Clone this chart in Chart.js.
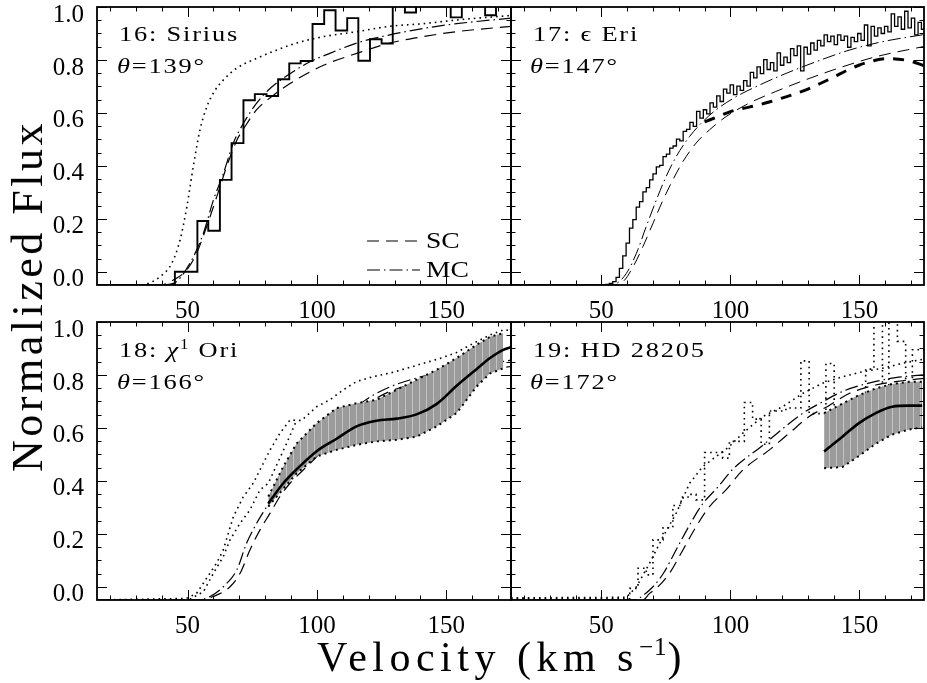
<!DOCTYPE html>
<html><head><meta charset="utf-8">
<script src="https://cdn.jsdelivr.net/npm/chart.js@4.4.1/dist/chart.umd.min.js"></script>
<style>
html,body{margin:0;padding:0;background:#fff;}
body{width:927px;height:683px;position:relative;overflow:hidden;}
canvas{position:absolute;}
.lab{position:absolute;font-family:"Liberation Serif","Times New Roman",serif;color:#000;white-space:nowrap;line-height:1;}
.pl{font-size:22px;letter-spacing:1.5px;transform:translateY(-50%) scaleX(1.2);transform-origin:left center;}
.sup{font-size:14px;position:relative;top:-8px;}
#ytitle{font-size:44px;letter-spacing:3.5px;left:28px;top:296px;transform:translate(-50%,-50%) rotate(-90deg);}
#xtitle{font-size:42px;letter-spacing:5.5px;left:502px;top:657px;transform:translate(-50%,-50%);}
#xtitle .s2{font-size:25px;position:relative;top:-16px;letter-spacing:1px;}
</style></head><body>
<canvas id="c16" width="520" height="340" style="left:0;top:0"></canvas>
<canvas id="c17" width="447" height="340" style="left:480px;top:0"></canvas>
<canvas id="c18" width="520" height="340" style="left:0;top:315px"></canvas>
<canvas id="c19" width="447" height="340" style="left:480px;top:315px"></canvas>

<div class="lab pl" style="left:119px;top:34px">16: Sirius</div>
<div class="lab pl" style="left:117px;top:66px"><i>θ</i>=139°</div>
<div class="lab pl" style="left:533px;top:34px">17: ϵ Eri</div>
<div class="lab pl" style="left:530px;top:66px"><i>θ</i>=147°</div>
<div class="lab pl" style="left:119px;top:350px">18: <i>χ</i><span class="sup">1</span> Ori</div>
<div class="lab pl" style="left:117px;top:382px"><i>θ</i>=166°</div>
<div class="lab pl" style="left:533px;top:350px">19: HD 28205</div>
<div class="lab pl" style="left:530px;top:382px"><i>θ</i>=172°</div>
<div id="ytitle" class="lab">Normalized Flux</div>
<div id="xtitle" class="lab">Velocity (km s<span class="s2">−1</span>)</div>

<script>
// ---------------- axis ----------------
const X_MIN = 15, X_MAX = 175;
const Y_MIN = -0.05, Y_MAX = 1.0;
const X_TICKS = [20, 30, 40, 50, 60, 70, 80, 90, 100, 110, 120, 130, 140, 150, 160, 170];
const X_LABELED = [50, 100, 150];
const Y_TICKS = [0, 0.05, 0.1, 0.15, 0.2, 0.25, 0.3, 0.35, 0.4, 0.45, 0.5, 0.55, 0.6, 0.65, 0.7, 0.75, 0.8, 0.85, 0.9, 0.95, 1.0];
const Y_LABELED = ['0.0', '0.2', '0.4', '0.6', '0.8', '1.0'];

// ---------------- 16: Sirius ----------------
const siriusEdges = [15, 45.1, 49.5, 53.8, 58.0, 62.5, 67.0, 71.6, 76.0, 80.5, 85.0, 89.3, 93.7, 98.3, 102.8, 107.2, 111.7, 116.0, 120.5, 125.0, 129.3, 134.0, 138.3, 142.7, 147.2, 151.7, 156.0, 160.4, 165.0, 169.2, 173.6, 175];
const siriusFlux  = [-0.05, 0.000, 0.000, 0.192, 0.155, 0.347, 0.486, 0.648, 0.671, 0.664, 0.727, 0.787, 0.796, 0.936, 0.988, 0.911, 0.958, 0.797, 0.878, 0.862, 1.04, 0.979, 1.04, 1.03, 1.05, 0.961, 1.03, 1.04, 0.969, 1.02, 1.03];
const siriusDotV  = [15, 31.6, 39.3, 43.9, 47.1, 49.7, 52.2, 54.8, 57.4, 60.6, 63.8, 69.0, 76.7, 84.4, 92.2, 102.5, 115.4, 128.2, 141.1, 154.0, 175];
const siriusDotF  = [-0.05, -0.05, -0.019, 0.032, 0.120, 0.244, 0.397, 0.536, 0.622, 0.685, 0.724, 0.769, 0.806, 0.837, 0.864, 0.888, 0.907, 0.927, 0.937, 0.951, 0.968];
const siriusScV   = [15, 39.3, 44.5, 49.7, 53.5, 57.4, 61.3, 65.1, 69.0, 72.9, 76.7, 83.2, 89.6, 96.0, 102.5, 115.4, 128.2, 141.1, 154.0, 175];
const siriusScF   = [-0.05, -0.05, -0.031, 0.007, 0.070, 0.171, 0.284, 0.397, 0.496, 0.559, 0.612, 0.667, 0.711, 0.748, 0.780, 0.825, 0.864, 0.888, 0.907, 0.927];
const siriusMcV   = [15, 39.3, 44.5, 50.9, 56.1, 60.0, 63.8, 67.7, 71.5, 76.7, 81.9, 89.6, 97.3, 105.0, 115.4, 128.2, 141.1, 154.0, 175];
const siriusMcF   = [-0.05, -0.05, -0.044, 0.032, 0.145, 0.271, 0.370, 0.486, 0.559, 0.637, 0.692, 0.748, 0.793, 0.825, 0.864, 0.895, 0.919, 0.937, 0.958];

// ---------------- 17: eps Eri ----------------
const epsEdges = [15, 50.5, 51.8, 53.1, 54.4, 55.7, 57.0, 58.3, 59.6, 60.9, 62.2, 63.5, 64.8, 66.1, 67.4, 68.7, 70.0, 71.3, 72.6, 73.9, 75.2, 76.5, 77.8, 79.1, 80.4, 81.7, 83.0, 84.3, 85.6, 86.9, 88.2, 89.5, 90.8, 92.1, 93.4, 94.7, 96.0, 97.3, 98.6, 99.9, 101.2, 102.5, 103.8, 105.1, 106.4, 107.7, 109.0, 110.3, 111.6, 112.9, 114.2, 115.5, 116.8, 118.1, 119.4, 120.7, 122.0, 123.3, 124.6, 125.9, 127.2, 128.5, 129.8, 131.1, 132.4, 133.7, 135.0, 136.3, 137.6, 138.9, 140.2, 141.5, 142.8, 144.1, 145.4, 146.7, 148.0, 149.3, 150.6, 151.9, 153.2, 154.5, 155.8, 157.1, 158.4, 159.7, 161.0, 162.3, 163.6, 164.9, 166.2, 167.5, 168.8, 170.1, 171.4, 172.7, 174.0, 175.3];
const epsFlux  = [-0.05, -0.050, -0.048, -0.044, -0.037, -0.021, 0.013, 0.060, 0.108, 0.165, 0.197, 0.244, 0.265, 0.302, 0.318, 0.347, 0.370, 0.396, 0.402, 0.435, 0.444, 0.467, 0.475, 0.501, 0.494, 0.530, 0.538, 0.564, 0.549, 0.606, 0.580, 0.612, 0.596, 0.638, 0.622, 0.664, 0.643, 0.690, 0.675, 0.706, 0.669, 0.701, 0.685, 0.722, 0.701, 0.753, 0.732, 0.774, 0.748, 0.801, 0.764, 0.790, 0.759, 0.827, 0.780, 0.811, 0.790, 0.843, 0.816, 0.853, 0.759, 0.848, 0.822, 0.864, 0.837, 0.874, 0.853, 0.895, 0.869, 0.890, 0.858, 0.895, 0.874, 0.890, 0.848, 0.885, 0.869, 0.900, 0.874, 0.932, 0.853, 0.927, 0.890, 0.921, 0.900, 0.927, 0.906, 0.974, 0.927, 0.963, 0.916, 0.984, 0.921, 0.958, 0.895, 0.942, 0.916];
const epsBoldV = [90, 95, 100, 105, 110, 115, 120, 125, 130, 135, 140, 145, 150, 155, 160, 165, 170, 175];
const epsBoldF = [0.566, 0.585, 0.605, 0.617, 0.628, 0.641, 0.656, 0.672, 0.690, 0.712, 0.735, 0.760, 0.781, 0.796, 0.805, 0.803, 0.795, 0.778];
const epsMcV = [15, 52.0, 55.8, 59.7, 63.6, 67.4, 71.3, 75.1, 79.0, 84.2, 89.3, 94.5, 102.2, 111.2, 121.5, 133.1, 146.0, 158.9, 175];
const epsMcF = [-0.05, -0.05, -0.044, -0.006, 0.070, 0.171, 0.271, 0.360, 0.435, 0.511, 0.567, 0.612, 0.661, 0.705, 0.749, 0.793, 0.837, 0.869, 0.896];
const epsScV = [15, 53.3, 58.4, 62.3, 66.1, 70.0, 73.9, 77.7, 81.6, 86.7, 91.9, 98.3, 107.3, 117.6, 130.5, 143.4, 156.3, 175];
const epsScF = [-0.05, -0.05, -0.037, 0.019, 0.095, 0.183, 0.271, 0.347, 0.416, 0.486, 0.536, 0.586, 0.637, 0.681, 0.730, 0.774, 0.812, 0.851];

// ---------------- 18: chi1 Ori ----------------
const chiObsAV = [15, 49.6, 53.5, 61.2, 63.8, 67.7, 71.5, 75.4, 81.9, 85.7, 89.6, 94.0, 99.9, 105.0, 110.2, 115.3, 121.8, 128.2, 134.7, 141.1, 147.5, 154.0, 160.4, 166.9, 172.0, 175];
const chiObsAF = [-0.05, -0.044, -0.025, 0.089, 0.139, 0.265, 0.339, 0.391, 0.517, 0.580, 0.630, 0.628, 0.680, 0.706, 0.744, 0.775, 0.794, 0.807, 0.825, 0.844, 0.862, 0.885, 0.919, 0.951, 0.970, 0.968];
const chiObsBV = [50.9, 56.1, 60.0, 63.8, 66.4, 70.3, 74.1, 78.0, 81.2, 88.3, 92.2];
const chiObsBF = [-0.047, -0.019, 0.051, 0.114, 0.177, 0.240, 0.290, 0.366, 0.391, 0.542, 0.630];
const chiBandV = [81.2, 87.0, 92.2, 99.9, 107.6, 115.3, 123.0, 130.8, 138.5, 146.2, 154.0, 161.7, 166.9, 172.0];
const chiBandHi = [0.341, 0.454, 0.542, 0.618, 0.675, 0.693, 0.706, 0.744, 0.782, 0.819, 0.864, 0.914, 0.944, 0.958];
const chiBandLo = [0.303, 0.370, 0.429, 0.492, 0.517, 0.536, 0.549, 0.555, 0.567, 0.605, 0.656, 0.756, 0.806, 0.825];
const chiMeanV = [81.2, 87.0, 92.2, 99.9, 107.6, 115.3, 123.0, 130.8, 138.5, 146.2, 154.0, 161.7, 166.9, 172.0, 175];
const chiMeanF = [0.315, 0.391, 0.444, 0.512, 0.559, 0.606, 0.627, 0.635, 0.651, 0.690, 0.759, 0.822, 0.864, 0.895, 0.905];
const chiScV = [15, 55.0, 59.9, 66.4, 70.3, 74.1, 78.0, 81.9, 85.7, 89.6, 94.7, 99.9, 105.0, 110.2, 115.3, 121.8, 128.2, 135.9, 143.7, 154.0, 164.3, 175];
const chiScF = [-0.05, -0.05, -0.037, 0.000, 0.051, 0.139, 0.215, 0.278, 0.341, 0.391, 0.441, 0.492, 0.555, 0.618, 0.668, 0.706, 0.738, 0.763, 0.781, 0.801, 0.818, 0.832];
const chiMcV = [15, 54.0, 58.7, 63.8, 69.0, 72.8, 76.7, 80.6, 84.4, 89.6, 94.7, 99.9, 105.0, 110.2, 115.3, 121.8, 128.2, 135.9, 143.7, 154.0, 164.3, 175];
const chiMcF = [-0.05, -0.05, -0.037, 0.000, 0.063, 0.164, 0.240, 0.303, 0.366, 0.429, 0.492, 0.542, 0.593, 0.643, 0.681, 0.724, 0.755, 0.781, 0.801, 0.818, 0.837, 0.856];

// ---------------- 19: HD 28205 ----------------
const hdStepEdges = [15, 61.0, 64.2, 67.4, 70.0, 73.9, 77.7, 80.9, 84.2, 86.7, 90.0, 94.5, 97.0, 99.6, 105.4, 108.6, 111.9, 115.1, 121.5, 127.3, 130.5, 137.0, 140.2, 146.0, 152.4, 155.6, 158.9, 161.4, 164.7, 167.9, 170.5, 175];
const hdStepFlux  = [-0.045, -0.006, 0.070, 0.045, 0.177, 0.223, 0.307, 0.339, 0.349, 0.328, 0.507, 0.507, 0.486, 0.549, 0.696, 0.633, 0.538, 0.664, 0.675, 0.853, 0.654, 0.843, 0.622, 0.601, 0.822, 1.05, 0.717, 1.05, 0.927, 0.685, 0.895];
const hdObsV = [15, 59.7, 63.6, 68.7, 73.9, 79.0, 84.2, 89.3, 94.5, 99.6, 104.8, 112.5, 120.2, 128.0, 135.7, 143.4, 151.1, 158.9, 166.6, 173.0, 175];
const hdObsF = [-0.042, -0.040, 0.000, 0.089, 0.189, 0.278, 0.391, 0.454, 0.492, 0.530, 0.580, 0.643, 0.680, 0.730, 0.769, 0.793, 0.812, 0.825, 0.844, 0.856, 0.860];
const hdBandV  = [136.3, 143.4, 149.8, 156.3, 162.7, 169.2, 174.3];
const hdBandHi = [0.656, 0.692, 0.724, 0.749, 0.766, 0.774, 0.774];
const hdBandLo = [0.448, 0.452, 0.494, 0.540, 0.575, 0.594, 0.602];
const hdMeanF  = [0.511, 0.567, 0.618, 0.656, 0.680, 0.684, 0.684];
const hdScV = [15, 66.0, 68.7, 71.3, 76.4, 81.6, 86.7, 91.9, 98.3, 104.8, 115.1, 122.8, 130.5, 138.3, 146.0, 156.3, 166.6, 175];
const hdScF = [-0.05, -0.05, -0.025, -0.006, 0.051, 0.139, 0.227, 0.303, 0.366, 0.441, 0.517, 0.580, 0.643, 0.685, 0.730, 0.762, 0.778, 0.787];
const hdMcV = [15, 63.0, 66.5, 70.0, 74.0, 79.0, 84.0, 89.0, 95.0, 101.0, 112.0, 120.0, 128.0, 136.0, 144.0, 154.0, 164.0, 175];
const hdMcF = [-0.05, -0.05, -0.030, 0.000, 0.050, 0.140, 0.230, 0.310, 0.375, 0.445, 0.530, 0.595, 0.655, 0.700, 0.740, 0.770, 0.790, 0.800];

// ---------------- helpers ----------------
const FONT = '"Liberation Serif", "Times New Roman", serif';
const DASH = [12, 7], DASHDOT = [13, 4, 1.5, 4], DOT = [1.6, 4];
const pts = (xs, ys) => xs.map((x, i) => ({x, y: ys[i]}));
const stepPts = (edges, vals) => edges.map((e, i) => ({x: e, y: vals[Math.min(i, vals.length - 1)]}));
const near = (a, b) => Math.abs(a - b) < 1e-6;
const isMajX = v => X_LABELED.some(m => near(m, v));
const yLabel = v => Y_LABELED.find(s => near(parseFloat(s), v));
function ds(data, o) {
  return Object.assign({data, borderColor: '#000', backgroundColor: 'transparent', borderWidth: 1.2,
    pointRadius: 0, fill: false, tension: 0, borderCapStyle: 'butt'}, o);
}
function bandPattern(canvas) {
  const t = document.createElement('canvas'); t.width = 7; t.height = 4;
  const g = t.getContext('2d');
  g.fillStyle = '#9b9b9b'; g.fillRect(0, 0, 7, 4);
  g.fillStyle = '#c4c4c4'; g.fillRect(6, 0, 1, 4);
  return canvas.getContext('2d').createPattern(t, 'repeat');
}

const framePlugin = {
  id: 'frame',
  afterDraw(chart) {
    const {ctx, chartArea: a, scales: {x, y}} = chart;
    ctx.save();
    ctx.setLineDash([]);
    ctx.strokeStyle = '#000';
    ctx.lineWidth = 1;
    ctx.beginPath();
    x.ticks.forEach(t => {
      const p = Math.round(x.getPixelForValue(t.value)) + 0.5;
      const L = isMajX(t.value) ? 10 : 4.5;
      ctx.moveTo(p, a.bottom); ctx.lineTo(p, a.bottom - L);
      ctx.moveTo(p, a.top); ctx.lineTo(p, a.top + L);
    });
    y.ticks.forEach(t => {
      const p = Math.round(y.getPixelForValue(t.value)) + 0.5;
      const L = yLabel(t.value) ? 10 : 4.5;
      ctx.moveTo(a.left, p); ctx.lineTo(a.left + L, p);
      ctx.moveTo(a.right, p); ctx.lineTo(a.right - L, p);
    });
    ctx.stroke();
    ctx.lineWidth = 1.8;
    ctx.strokeRect(a.left, a.top, a.right - a.left, a.bottom - a.top);
    ctx.restore();
  }
};

const legendPlugin = {
  id: 'modelLegend',
  afterDatasetsDraw(chart) {
    const {ctx, chartArea: a} = chart;
    const x0 = a.right - 144, x1 = a.right - 91;
    const rows = [[a.top + 234, DASH, 'SC'], [a.top + 263, DASHDOT, 'MC']];
    ctx.save();
    ctx.strokeStyle = '#000'; ctx.fillStyle = '#000'; ctx.lineWidth = 1.2;
    ctx.font = '23px ' + FONT; ctx.textBaseline = 'middle';
    rows.forEach(([yy, dash, txt]) => {
      ctx.setLineDash(dash);
      ctx.beginPath(); ctx.moveTo(x0, yy); ctx.lineTo(x1, yy); ctx.stroke();
      ctx.setLineDash([]);
      ctx.save(); ctx.translate(x1 + 6, yy); ctx.scale(1.2, 1); ctx.fillText(txt, 0, 1); ctx.restore();
    });
    ctx.restore();
  }
};

function makeChart(id, datasets, showY, extraPlugins) {
  const canvas = document.getElementById(id);
  const padRight = showY ? 9 : 3;
  return new Chart(canvas, {
    type: 'line',
    data: {datasets},
    options: {
      responsive: false, animation: false, events: [],
      layout: {padding: {top: 7, right: padRight, left: 0, bottom: 0}},
      plugins: {legend: {display: false}, tooltip: {enabled: false}},
      scales: {
        x: {
          type: 'linear', min: X_MIN, max: X_MAX,
          afterBuildTicks: s => { s.ticks = X_TICKS.map(v => ({value: v})); },
          afterFit: s => { s.height = 55; s.paddingLeft = 0; s.paddingRight = 0; },
          ticks: {autoSkip: false, maxRotation: 0, minRotation: 0,
            padding: 13.5, color: '#000', font: {family: FONT, size: 25, lineHeight: 1},
            callback: v => (isMajX(v) ? String(Math.round(v)) : '')},
          grid: {display: false, drawTicks: false}, border: {display: false}
        },
        y: {
          type: 'linear', min: Y_MIN, max: Y_MAX,
          afterBuildTicks: s => { s.ticks = Y_TICKS.map(v => ({value: v})); },
          afterFit: s => { s.width = showY ? 97 : 31; s.paddingTop = 0; s.paddingBottom = 0; },
          ticks: {display: showY, autoSkip: false, padding: 13,
            color: '#000', font: {family: FONT, size: 25, lineHeight: '16px'},
            callback: v => { const l = yLabel(v); return l ? ['', l] : ''; }},
          grid: {display: false, drawTicks: false}, border: {display: false}
        }
      }
    },
    plugins: [framePlugin].concat(extraPlugins || [])
  });
}

// ---------------- charts ----------------
makeChart('c16', [
  ds(stepPts(siriusEdges, siriusFlux), {stepped: 'before', borderWidth: 1.9}),
  ds(pts(siriusMcV, siriusMcF), {borderDash: DASHDOT, cubicInterpolationMode: 'monotone'}),
  ds(pts(siriusScV, siriusScF), {borderDash: DASH, cubicInterpolationMode: 'monotone'}),
  ds(pts(siriusDotV, siriusDotF), {borderDash: DOT, borderWidth: 1.6, cubicInterpolationMode: 'monotone'})
], true, [legendPlugin]);

makeChart('c17', [
  ds(stepPts(epsEdges, epsFlux), {stepped: 'before', borderWidth: 1.3}),
  ds(pts(epsBoldV, epsBoldF), {borderDash: [11, 9], borderWidth: 3, cubicInterpolationMode: 'monotone'}),
  ds(pts(epsMcV, epsMcF), {borderDash: DASHDOT, borderWidth: 1, cubicInterpolationMode: 'monotone'}),
  ds(pts(epsScV, epsScF), {borderDash: DASH, borderWidth: 1, cubicInterpolationMode: 'monotone'})
], false);

const c18 = document.getElementById('c18');
makeChart('c18', [
  ds(pts(chiMeanV, chiMeanF), {borderWidth: 2.6, cubicInterpolationMode: 'monotone'}),
  ds(pts(chiBandV, chiBandLo), {borderDash: [2, 4], borderWidth: 2}),
  ds(pts(chiBandV, chiBandHi), {borderDash: [2, 4], borderWidth: 2, fill: '-1', backgroundColor: bandPattern(c18)}),
  ds(pts(chiMcV, chiMcF), {borderDash: DASHDOT, cubicInterpolationMode: 'monotone'}),
  ds(pts(chiScV, chiScF), {borderDash: DASH, cubicInterpolationMode: 'monotone'}),
  ds(pts(chiObsAV, chiObsAF), {borderDash: DOT, borderWidth: 1.6}),
  ds(pts(chiObsBV, chiObsBF), {borderDash: DOT, borderWidth: 1.6})
], true);

const c19 = document.getElementById('c19');
makeChart('c19', [
  ds(pts(hdBandV, hdMeanF), {borderWidth: 2.6, cubicInterpolationMode: 'monotone'}),
  ds(pts(hdBandV, hdBandLo), {borderDash: [2, 4], borderWidth: 2}),
  ds(pts(hdBandV, hdBandHi), {borderDash: [2, 4], borderWidth: 2, fill: '-1', backgroundColor: bandPattern(c19)}),
  ds(pts(hdMcV, hdMcF), {borderDash: DASHDOT, cubicInterpolationMode: 'monotone'}),
  ds(pts(hdScV, hdScF), {borderDash: DASH, cubicInterpolationMode: 'monotone'}),
  ds(stepPts(hdStepEdges, hdStepFlux), {stepped: 'before', borderDash: DOT, borderWidth: 1.6}),
  ds(pts(hdObsV, hdObsF), {borderDash: DOT, borderWidth: 1.6})
], false);
</script>
</body></html>
